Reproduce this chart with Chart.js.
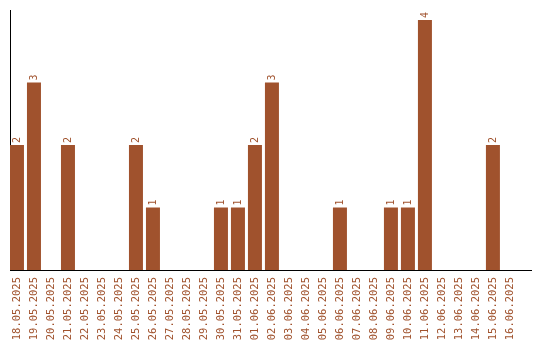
<!DOCTYPE html>
<html>
<head>
<meta charset="utf-8">
<script src="https://cdn.jsdelivr.net/npm/chart.js@4/dist/chart.umd.min.js"></script>
<style>
html,body{margin:0;padding:0;background:#fff;}
#wrap{width:540px;height:340px;position:relative;}
</style>
</head>
<body>
<div id="wrap"><canvas id="c" width="540" height="340"></canvas></div>
<script>
const dates = ["18.05.2025","19.05.2025","20.05.2025","21.05.2025","22.05.2025","23.05.2025","24.05.2025","25.05.2025","26.05.2025","27.05.2025","28.05.2025","29.05.2025","30.05.2025","31.05.2025","01.06.2025","02.06.2025","03.06.2025","04.06.2025","05.06.2025","06.06.2025","07.06.2025","08.06.2025","09.06.2025","10.06.2025","11.06.2025","12.06.2025","13.06.2025","14.06.2025","15.06.2025","16.06.2025"];
const counts = [2,3,0,2,0,0,0,2,1,0,0,0,1,1,2,3,0,0,0,1,0,0,1,1,4,0,0,0,2,0];

const BROWN = '#a0522d';
const FONT = '"DejaVu Sans Mono", monospace';

const valueLabels = {
  id: 'valueLabels',
  afterDatasetsDraw(chart) {
    const ctx = chart.ctx;
    const meta = chart.getDatasetMeta(0);
    ctx.save();
    ctx.fillStyle = BROWN;
    ctx.font = '10px ' + FONT;
    ctx.textAlign = 'left';
    ctx.textBaseline = 'middle';
    meta.data.forEach((bar, i) => {
      const v = counts[i];
      if (!v) return;
      ctx.save();
      ctx.translate(bar.x, bar.y - 2);
      ctx.rotate(-Math.PI / 2);
      ctx.fillText(String(v), 0, 0);
      ctx.restore();
    });
    ctx.restore();
  }
};

new Chart(document.getElementById('c'), {
  type: 'bar',
  data: {
    datasets: [{
      data: dates.map((d, i) => ({ x: i, y: counts[i] })),
      backgroundColor: BROWN,
      borderWidth: 0,
      barPercentage: 14 / 17,
      categoryPercentage: 1
    }]
  },
  options: {
    responsive: false,
    animation: false,
    events: [],
    layout: { padding: { left: 10, top: 10, right: 9, bottom: 0 } },
    plugins: { legend: { display: false }, tooltip: { enabled: false } },
    scales: {
      x: {
        type: 'linear',
        offset: false,
        min: -0.41,
        max: 30.24,
        grid: { display: false, drawTicks: false, offset: false },
        border: { display: true, color: '#000', width: 1 },
        afterFit(s) { s.height = 70; s.paddingLeft = 0; s.paddingRight = 0; },
        ticks: {
          stepSize: 1,
          includeBounds: false,
          autoSkip: false,
          minRotation: 90,
          maxRotation: 90,
          padding: 7,
          color: BROWN,
          font: { family: FONT, size: 10.5 },
          callback(v) {
            return Number.isInteger(v) && dates[v] !== undefined ? dates[v] : '';
          }
        }
      },
      y: {
        min: 0,
        max: 4.16,
        grid: { display: false, drawTicks: false },
        border: { display: true, color: '#000', width: 1 },
        ticks: { display: false },
        afterFit(s) { s.width = 0; s.paddingTop = 0; s.paddingBottom = 0; }
      }
    }
  },
  plugins: [valueLabels]
});
</script>
</body>
</html>
